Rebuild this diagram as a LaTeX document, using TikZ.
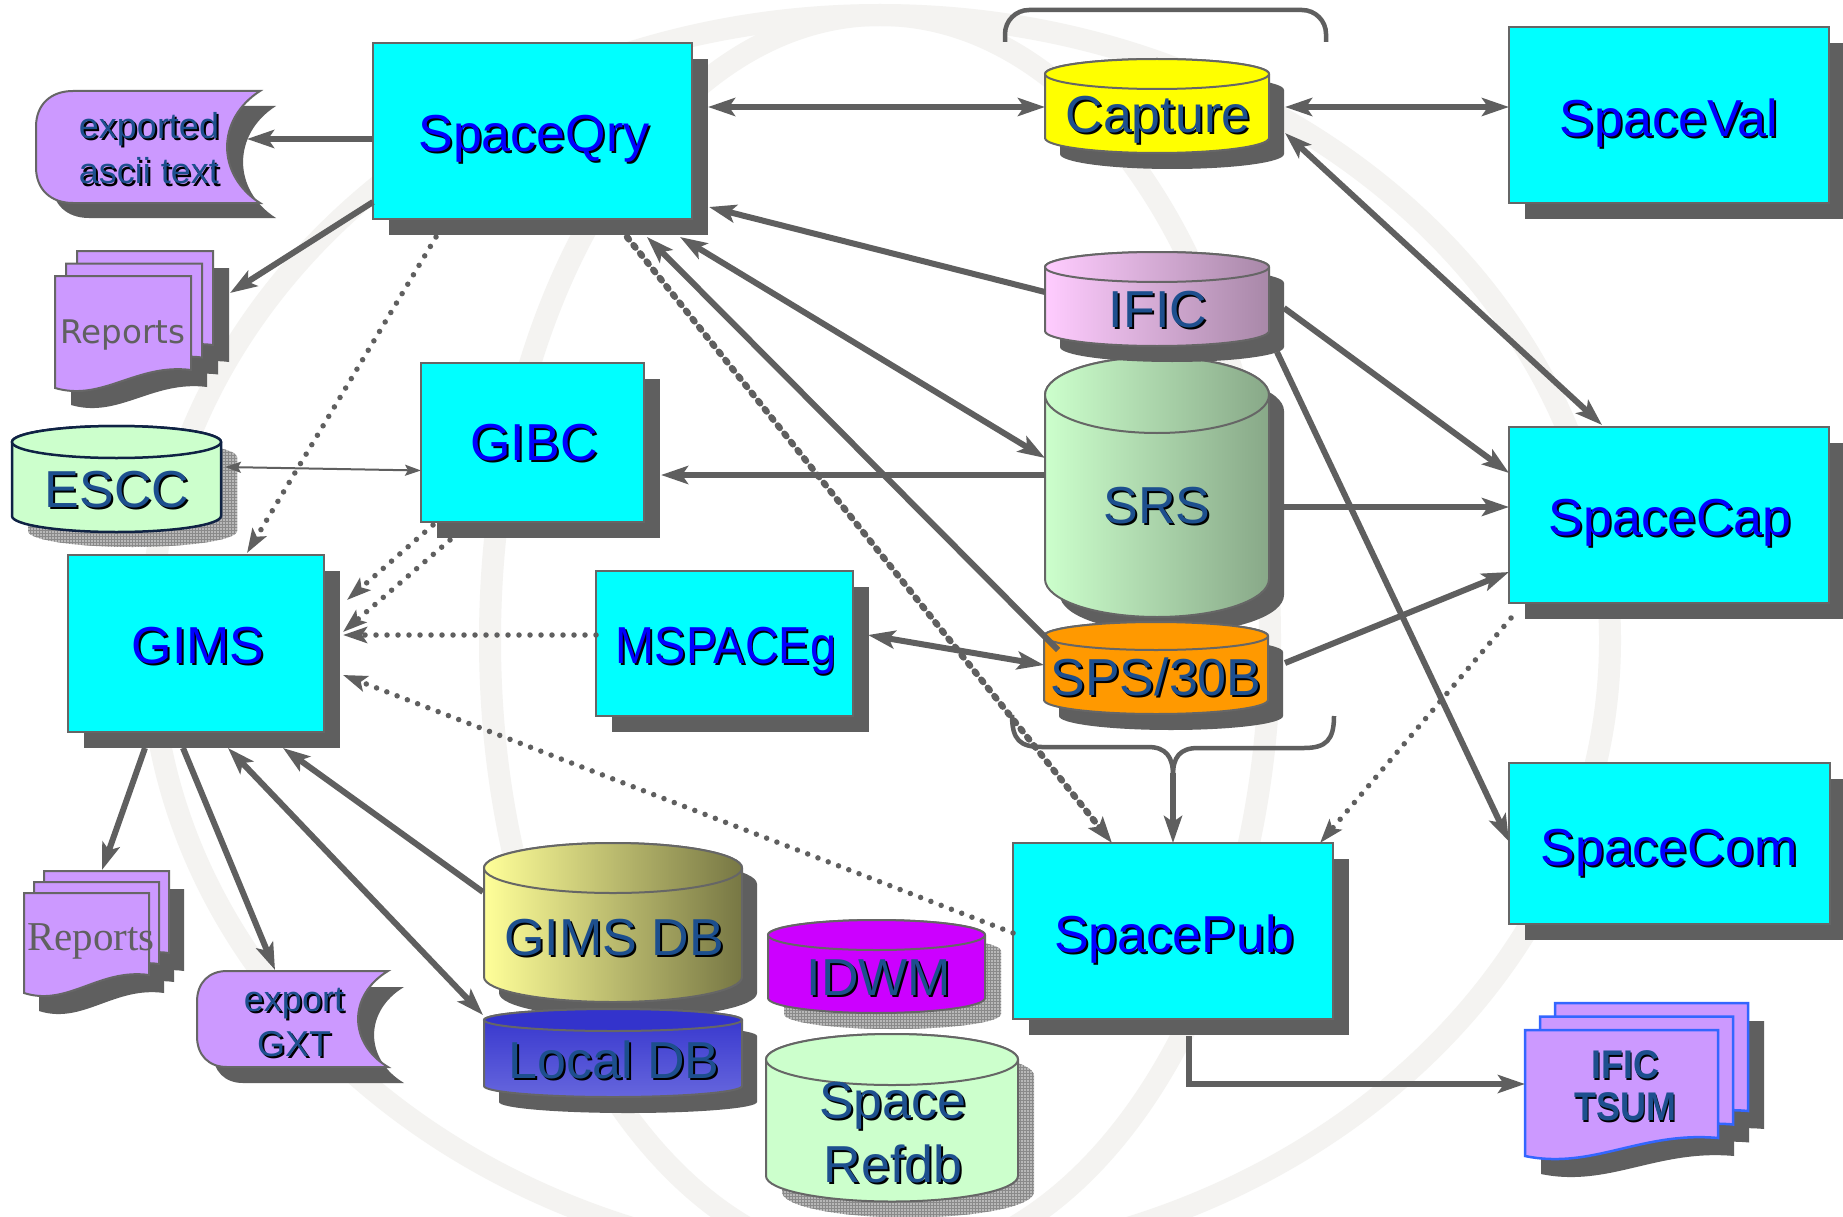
\documentclass[tikz,border=0pt]{standalone}
\usepackage{fontspec}
\usepackage{graphicx}
\setmainfont{Liberation Sans}
\newfontfamily\dejavu{DejaVu Sans}
\newfontfamily\tnr{Liberation Serif}
\usetikzlibrary{calc,arrows.meta,shadows,patterns}
\definecolor{cyanbox}{HTML}{00FFFF}
\definecolor{shd}{HTML}{5F5F5F}
\definecolor{edge}{HTML}{666666}
\definecolor{lblue}{HTML}{0000FF}
\definecolor{dblue}{HTML}{1D4F8E}
\definecolor{lav}{HTML}{CC99FF}
\definecolor{mint}{HTML}{CCFFCC}
\definecolor{mintd}{HTML}{88A888}
\definecolor{pinkl}{HTML}{FFCCFF}
\definecolor{pinkd}{HTML}{A888A8}
\definecolor{yell}{HTML}{FFFF00}
\definecolor{olivel}{HTML}{FFFF99}
\definecolor{olived}{HTML}{777744}
\definecolor{orng}{HTML}{FF9900}
\definecolor{magen}{HTML}{CC00FF}
\definecolor{ldbtop}{HTML}{3333CC}
\definecolor{ldbbot}{HTML}{6666DD}
\definecolor{navy}{HTML}{0F2244}
\definecolor{tsumedge}{HTML}{3366FF}
\definecolor{wm}{HTML}{F4F3F1}
\definecolor{hatchbg}{HTML}{B8B8B8}
\definecolor{hatchln}{HTML}{8A8A8A}
\definecolor{txtgray}{HTML}{606060}

\newcommand\sh[2]{\leavevmode\rlap{\kern2pt\raisebox{-2pt}{\color{black}#2}}{\color{#1}#2}}

\newcommand\cyl[6]{\path[#6] ({#1},{#3}) -- ({#1},{#4}) .. controls ({#1},{#4+0.552*#5}) and ({(#1+#2)/2-0.276*(#2-#1)},{#4+#5}) .. ({(#1+#2)/2},{#4+#5}) .. controls ({(#1+#2)/2+0.276*(#2-#1)},{#4+#5}) and ({#2},{#4+0.552*#5}) .. ({#2},{#4}) -- ({#2},{#3}) .. controls ({#2},{#3-0.552*#5}) and ({(#1+#2)/2+0.276*(#2-#1)},{#3-#5}) .. ({(#1+#2)/2},{#3-#5}) .. controls ({(#1+#2)/2-0.276*(#2-#1)},{#3-#5}) and ({#1},{#3-0.552*#5}) .. ({#1},{#3}) -- cycle;}
\newcommand\cyltop[5]{\path[#5] ({(#1+#2)/2},{#3}) ellipse [x radius={(#2-#1)/2}, y radius={#4}];}

\newcommand\page[5]{\path[#5] ({#1},{#2}) -- ({#1+#3},{#2}) -- ({#1+#3},{#2+#4-18}) .. controls ({#1+0.6*#3},{#2+#4-25}) and ({#1+0.35*#3},{#2+#4+14}) .. ({#1},{#2+#4}) -- cycle;}
\newcommand\stack[7]{\page{#1+2*(#5)}{#2+2*(#6)}{#3}{#4}{#7}\page{#1+(#5)}{#2+(#6)}{#3}{#4}{#7}\page{#1}{#2}{#3}{#4}{#7}}

\newcommand\stored[7]{\path[#7] ({#1+#5},{#2}) -- ({#3},{#2}) .. controls ({#3-1.33*#6},{#2+0.25*(#4-#2)}) and ({#3-1.33*#6},{#4-0.25*(#4-#2)}) .. ({#3},{#4}) -- ({#1+#5},{#4}) .. controls ({#1+0.4*#5},{#4}) and ({#1},{#4-0.12*(#4-#2)}) .. ({#1},{#4-0.32*(#4-#2)}) -- ({#1},{#2+0.32*(#4-#2)}) .. controls ({#1},{#2+0.12*(#4-#2)}) and ({#1+0.4*#5},{#2}) .. ({#1+#5},{#2}) -- cycle;}

\tikzset{
  box/.style={draw=edge, line width=2pt, fill=cyanbox, inner sep=0pt, outer sep=0pt,
    drop shadow={shadow xshift=16pt, shadow yshift=-16pt, fill=shd, opacity=1}},
  area/.style={inner sep=0pt, outer sep=0pt},
  lab/.style={inner sep=0pt, anchor=base, font=\fontsize{52}{60}\selectfont},
  labs/.style={inner sep=0pt, anchor=base, font=\fontsize{36}{40}\selectfont},
  conn/.style={draw=shd, line width=6pt, >={Stealth[length=27pt,width=18pt,inset=6pt]}},
  thinc/.style={draw=shd, line width=2pt, >={Stealth[length=16pt,width=11pt,inset=3pt]}},
  dotl/.style={draw=shd, line width=5.5pt, dash pattern=on 0pt off 11pt, line cap=round, >={Stealth[length=24pt,width=16pt,inset=5pt]}},
  dotw/.style={draw=shd, line width=6.5pt, dash pattern=on 3pt off 7.5pt, line cap=round, >={Stealth[length=26pt,width=18pt,inset=5pt]}},
  hatch/.style={fill=hatchbg, postaction={pattern=grid, pattern color=hatchln}},
  wmark/.style={draw=wm, line width=22pt},
  bracel/.style={draw=shd, line width=4.5pt}
}

\begin{document}
\begin{tikzpicture}[x=1pt,y=-1pt]
\useasboundingbox (0,0) rectangle (1843,1217);
\fill[white] (0,0) rectangle (1843,1217);

% watermark globe
\draw[wmark] (880,640) ellipse [x radius=730, y radius=625];
\draw[wmark] (880,640) ellipse [x radius=390, y radius=625];

% top brace over Capture
\draw[bracel, rounded corners=24pt] (1005,42) -- (1005,10) -- (1326,10) -- (1326,42);

% exported ascii text
\stored{52}{106}{276}{218}{37}{33}{fill=shd}
\stored{36}{91}{260}{203}{37}{33}{fill=lav, draw=edge, line width=2pt}
\node[area, minimum width=224, minimum height=112] (expa) at (148,147) {};
\node[labs] (expaT1) at (149,139) {\sh{dblue}{exported}};
\node[labs] (expaT2) at (149,184) {\sh{dblue}{ascii text}};

% Reports (top)
\stack{71}{293}{136}{112}{11}{-12.5}{fill=shd}
\stack{55}{276}{136}{112}{11}{-12.5}{fill=lav, draw=edge, line width=2pt}
\node[area, minimum width=158, minimum height=137] (rep1) at (134,319.5) {};
\node[inner sep=0pt, anchor=base, font=\dejavu\fontsize{32.5}{36}\selectfont, text=txtgray] (rep1T) at (123,343) {Reports};

% Reports (bottom)
\stack{39}{911}{125}{100}{10}{-11}{fill=shd}
\stack{24}{893}{125}{100}{10}{-11}{fill=lav, draw=edge, line width=2pt}
\node[area, minimum width=145, minimum height=122] (rep2) at (96.5,932) {};
\node[inner sep=0pt, anchor=base, font=\tnr\fontsize{41}{44}\selectfont, text=txtgray] (rep2T) at (91,950) {Reports};

% export GXT
\stored{213}{987}{404}{1083}{30}{30}{fill=shd}
\stored{197}{971}{388}{1067}{30}{30}{fill=lav, draw=edge, line width=2pt}
\node[area, minimum width=191, minimum height=96] (gxt) at (292.5,1019) {};
\node[labs] (gxtT1) at (294,1011) {\sh{dblue}{export}};
\node[labs] (gxtT2) at (294,1056) {\sh{dblue}{GXT}};

% IFIC TSUM
\stack{1541}{1048}{193}{126}{15}{-13.5}{fill=shd}
\stack{1525}{1030}{193}{126}{15}{-13.5}{fill=lav, draw=tsumedge, line width=2.5pt}
\node[area, minimum width=223, minimum height=153] (tsum) at (1636.5,1079.5) {};
\node[inner sep=0pt, anchor=base, font=\bfseries\fontsize{40}{44}\selectfont] (tsumT1) at (1625,1078) {\scalebox{0.9}[1]{\sh{dblue}{IFIC}}};
\node[inner sep=0pt, anchor=base, font=\bfseries\fontsize{40}{44}\selectfont] (tsumT2) at (1625,1120) {\scalebox{0.9}[1]{\sh{dblue}{TSUM}}};

% ESCC
\cyl{28}{237}{457}{531}{16}{hatch}
\cyl{12}{221}{442}{516}{16}{fill=mint, draw=navy, line width=2.5pt}
\cyltop{12}{221}{442}{16}{fill=mint, draw=navy, line width=2.5pt}
\node[area, minimum width=209, minimum height=106] (escc) at (116.5,479) {};
\node[lab] (esccT) at (117,507) {\sh{dblue}{ESCC}};

% Capture
\cyl{1060}{1284}{90}{154}{15}{fill=shd}
\cyl{1045}{1269}{74}{138}{15}{fill=yell, draw=edge, line width=2pt}
\cyltop{1045}{1269}{74}{15}{fill=yell, draw=edge, line width=2pt}
\node[area, minimum width=224, minimum height=94] (capt) at (1157,106) {};
\node[lab] (captT) at (1158,133) {\sh{dblue}{Capture}};

% SRS
\cyl{1060}{1284}{411}{595}{38}{fill=shd}
\cyl{1045}{1269}{395}{579}{38}{left color=mint, right color=mintd, draw=edge, line width=2pt}
\cyltop{1045}{1269}{395}{38}{left color=mint, right color=mintd, draw=edge, line width=2pt}
\node[area, minimum width=224, minimum height=260] (srs) at (1157,487) {};
\node[lab] (srsT) at (1157,523) {\sh{dblue}{SRS}};

% IFIC
\cyl{1060}{1284}{283}{347}{15}{fill=shd}
\cyl{1045}{1269}{267}{331}{15}{left color=pinkl, right color=pinkd, draw=edge, line width=2pt}
\cyltop{1045}{1269}{267}{15}{left color=pinkl, right color=pinkd, draw=edge, line width=2pt}
\node[area, minimum width=224, minimum height=94] (ific) at (1157,299) {};
\node[lab] (ificT) at (1158,327) {\sh{dblue}{IFIC}};

% SPS/30B
\cyl{1059}{1283}{652}{716}{14}{fill=shd}
\cyl{1044}{1268}{636}{700}{14}{fill=orng, draw=edge, line width=2pt}
\cyltop{1044}{1268}{636}{14}{fill=orng, draw=edge, line width=2pt}
\node[area, minimum width=224, minimum height=92] (sps) at (1156,668) {};
\node[lab] (spsT) at (1156,695) {\sh{dblue}{SPS/30B}};

% GIMS DB
\cyl{499}{757}{884}{993}{25}{fill=shd}
\cyl{484}{742}{868}{977}{25}{left color=olivel, right color=olived, draw=edge, line width=2pt}
\cyltop{484}{742}{868}{25}{left color=olivel, right color=olived, draw=edge, line width=2pt}
\node[area, minimum width=258, minimum height=159] (gdb) at (613,922.5) {};
\node[lab] (gdbT) at (614,955) {\sh{dblue}{GIMS DB}};

% Local DB
\cyl{499}{757}{1036}{1102}{11}{fill=shd}
\cyl{484}{742}{1020}{1086}{11}{top color=ldbtop, bottom color=ldbbot, draw=edge, line width=2pt}
\cyltop{484}{742}{1020}{11}{fill=ldbtop, draw=edge, line width=2pt}
\node[area, minimum width=258, minimum height=88] (ldb) at (613,1053) {};
\node[lab] (ldbT) at (614,1078) {\sh{dblue}{Local DB}};

% IDWM
\cyl{784}{1001}{951}{1014}{15}{hatch}
\cyl{768}{985}{935}{998}{15}{fill=magen, draw=edge, line width=2pt}
\cyltop{768}{985}{935}{15}{fill=magen, draw=edge, line width=2pt}
\node[area, minimum width=217, minimum height=93] (idwm) at (876.5,966.5) {};
\node[lab] (idwmT) at (879,995) {\sh{dblue}{IDWM}};

% Space Refdb
\cyl{782}{1034}{1075.5}{1192}{25.5}{hatch}
\cyl{766}{1018}{1059.5}{1176}{25.5}{fill=mint, draw=edge, line width=2pt}
\cyltop{766}{1018}{1059.5}{25.5}{fill=mint, draw=edge, line width=2pt}
\node[area, minimum width=252, minimum height=167.5] (refdb) at (892,1117.75) {};
\node[lab] (refdbT1) at (893,1118) {\sh{dblue}{Space}};
\node[lab] (refdbT2) at (893,1182) {\sh{dblue}{Refdb}};

% boxes
\node[box, minimum width=319, minimum height=176] (qry) at (532.5,131) {};
\node[box, minimum width=320, minimum height=176] (val) at (1669,115) {};
\node[box, minimum width=223, minimum height=159] (gibc) at (532.5,442.5) {};
\node[box, minimum width=256, minimum height=177] (gims) at (196,643.5) {};
\node[box, minimum width=257, minimum height=145] (msp) at (724.5,643.5) {};
\node[box, minimum width=320, minimum height=176] (cap) at (1669,515) {};
\node[box, minimum width=321, minimum height=161] (com) at (1669.5,843.5) {};
\node[box, minimum width=320, minimum height=176] (pub) at (1173,931) {};

\node[lab] (qryT) at (534,152) {\sh{lblue}{SpaceQry}};
\node[lab] (valT) at (1669,137) {\sh{lblue}{SpaceVal}};
\node[lab] (gibcT) at (534,460) {\sh{lblue}{GIBC}};
\node[lab] (gimsT) at (198,663) {\sh{lblue}{GIMS}};
\node[lab] (mspT) at (726,663) {\scalebox{0.9}[1]{\sh{lblue}{MSPACEg}}};
\node[lab] (capT) at (1670,535) {\sh{lblue}{SpaceCap}};
\node[lab] (comT) at (1669,865) {\sh{lblue}{SpaceCom}};
\node[lab] (pubT) at (1174,952) {\sh{lblue}{SpacePub}};

% bottom brace
\draw[bracel] (1012,715) .. controls (1012,740) and (1020,747) .. (1042,747) -- (1148,747) .. controls (1166,747) and (1173,757) .. (1173,775);
\draw[bracel] (1334,716) .. controls (1334,740) and (1326,748) .. (1304,748) -- (1198,748) .. controls (1180,748) and (1173,757) .. (1173,775);
\coordinate (bt) at (1173,773);

% connectors
\draw[conn,->] ($(qry.west)+(0,8)$) -- ($(expa.east)+(-13,-8)$);
\draw[conn,->] ($(qry.west)+(0,71)$) -- ($(rep1.east)+(17,-26.5)$);
\draw[conn,<->] ($(qry.east)+(16,-24)$) -- ($(capt.west)+(0,1)$);
\draw[conn,<->] ($(capt.east)+(16,1)$) -- ($(val.west)+(0,-8)$);
\draw[conn,->] ($(ific.west)+(0,-7)$) -- ($(qry.south east)+(17,-12)$);
\draw[conn,<->] ($(qry.south east)+(-12,18)$) -- ($(srs.west)+(0,-29)$);
\draw[conn,->] ($(sps.north west)+(14,28)$) -- ($(qry.south east)+(-45,18)$);
\draw[dotw,->] ($(qry.south east)+(-65,18)$) -- ($(pub.north west)+(99,0)$);
\draw[dotl,->] ($(qry.south west)+(63,18)$) -- ($(gims.north west)+(179,-2)$);
\draw[thinc,<->] ($(escc.east)+(4,-12)$) -- ($(gibc.west)+(0,28)$);
\draw[conn,->] ($(srs.west)+(0,-12)$) -- ($(gibc.east)+(17,32.5)$);
\draw[dotl,->] ($(gibc.south west)+(12,3)$) -- ($(gims.east)+(23,-43.5)$);
\draw[dotl,->] ($(gibc.south west)+(29,18)$) -- ($(gims.east)+(19,-11.5)$);
\draw[dotl,->] ($(msp.west)+(0,-8.5)$) -- ($(gims.east)+(19,-8.5)$);
\draw[dotl,->] ($(pub.west)+(0,2)$) -- ($(gims.east)+(19,31.5)$);
\draw[conn,<->] ($(msp.east)+(15,-8.5)$) -- ($(sps.west)+(0,-3)$);
\draw[conn,->] ($(ific.east)+(15,9)$) -- ($(cap.west)+(0,-42)$);
\draw[conn,<->] ($(capt.east)+(16,27)$) -- ($(cap.north west)+(93,-2)$);
\draw[conn,->] ($(srs.east)+(15,20)$) -- ($(cap.west)+(0,-8)$);
\draw[conn,->] ($(sps.east)+(17,-5)$) -- ($(cap.west)+(0,57)$);
\draw[conn,->] ($(ific.south east)+(8,6)$) -- ($(com.west)+(0,-2)$);
\draw[dotl,->] ($(cap.south west)+(2,15)$) -- ($(pub.north east)+(-13,0)$);
\draw[conn,->] (bt) -- (pub.north);
\draw[conn,->] ($(pub.south)+(16,17)$) |- ($(tsum.west)+(0,4.5)$);
\draw[conn,->] ($(gims.south west)+(77,16)$) -- ($(rep2.north)+(5.5,-1)$);
\draw[conn,->] ($(gims.south west)+(115,16)$) -- ($(gxt.north)+(-17.5,-1)$);
\draw[conn,<->] ($(gims.south west)+(160,16)$) -- ($(ldb.north west)+(-1,6)$);
\draw[conn,->] ($(gdb.west)+(-1,-30.5)$) -- ($(gims.south west)+(215,16)$);
\end{tikzpicture}
\end{document}
